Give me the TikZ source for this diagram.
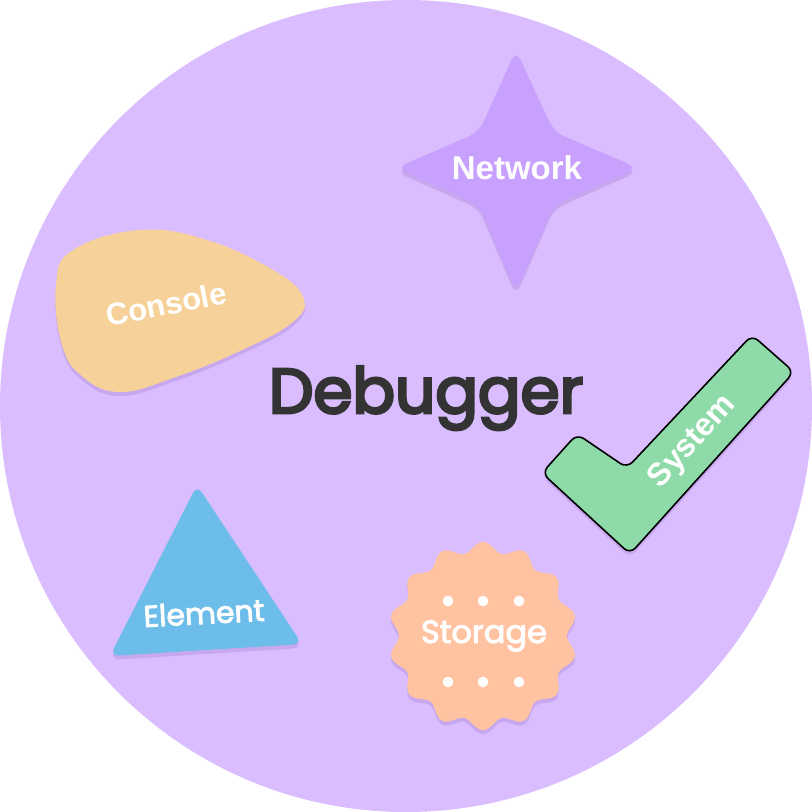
\documentclass[tikz,border=0pt]{standalone}
\usepackage{fontspec}
\setmainfont{Liberation Sans}
\newfontfamily\popfont{Poppins}
\newfontfamily\popmed[FakeBold=2.8]{Poppins}
\newfontfamily\popsemi[FakeBold=4.5]{Poppins}
\usetikzlibrary{shadows}
\definecolor{bgcirc}{HTML}{D9BDFE}
\definecolor{starc}{HTML}{C8A0FE}
\definecolor{consc}{HTML}{F6D29A}
\definecolor{checkc}{HTML}{8EDAA8}
\definecolor{trianc}{HTML}{6DBDEA}
\definecolor{storc}{HTML}{FFC3A2}
\definecolor{darktxt}{HTML}{333333}
\definecolor{shadc}{HTML}{9A70C8}
\tikzset{
  shd/.style={drop shadow={shadow xshift=0pt, shadow yshift=-4pt, opacity=0.28, fill=shadc}},
  lbl/.style={text=white, font=\bfseries\fontsize{33}{33}\selectfont, inner sep=0pt},
}
\begin{document}
\begin{tikzpicture}[x=1pt,y=-1pt]
\useasboundingbox (0,0) rectangle (812,812);
\fill[white] (0,0) rectangle (812,812);
\fill[bgcirc] (406,406) circle (406);
% Network star
\path[shd, fill=starc, rounded corners=11pt]
  (516,50) -- (554,132) -- (638,168) -- (554,205) -- (516,292) -- (479,205) -- (396,168) -- (479,132) -- cycle;
\node[lbl] (network) at (517,168) {Network};
% Console blob
\path[shd, fill=consc] plot[smooth cycle, tension=0.7] coordinates {
  (56,285) (73,250) (140,230) (207,240) (273,270) (303,297) (293,322) (240,351) (173,378) (120,392) (83,377) (62,345)};
\node[lbl, rotate=11, font=\bfseries\fontsize{31}{31}\selectfont] (console) at (166,304) {Console};
% System checkmark
\path[shd, fill=checkc, draw=black, line width=1.6pt, rounded corners=8pt]
  (752,335) -- (794,372) -- (630,554) -- (542,473) -- (577,434) -- (627,468) -- cycle;
\node[lbl, rotate=48, font=\bfseries\fontsize{32}{32}\selectfont] (system) at (693,442) {System};
% Element triangle
\path[shd, fill=trianc, rounded corners=9pt] (197,485) -- (302,644) -- (110,656) -- cycle;
\node[lbl, rotate=3, font=\popmed\fontsize{30}{30}\selectfont] (element) at (204,613) {Element};
% Storage badge
\path[shd, fill=storc] plot[domain=0:360, samples=280, smooth]
  ({483+(89+5*cos(14*(\x-90)))*cos(\x)}, {636+(89+5*cos(14*(\x-90)))*sin(\x)}) -- cycle;
\foreach \i/\px/\py in {1/448/601,2/483/601,3/519/601,4/448/682,5/483/682,6/519/682}
  \fill[white] (\px,\py) circle (5.3);
\node[lbl, font=\popmed\fontsize{32}{32}\selectfont] (storage) at (484,636) {Storage};
% Title
\node[text=darktxt, font=\popsemi\fontsize{63}{63}\selectfont, inner sep=0pt, anchor=base] (debugger) at (426,413) {Debugger};
\end{tikzpicture}
\end{document}
